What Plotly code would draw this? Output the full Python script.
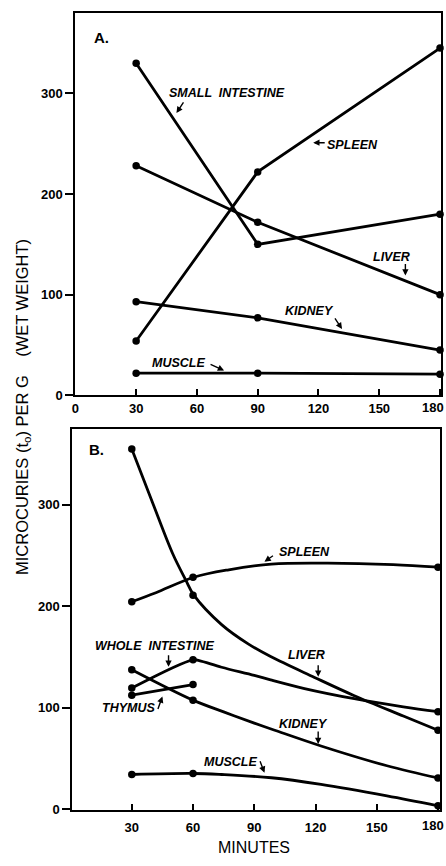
import plotly.graph_objects as go

W, H = 446, 866

# ---------------- Panel A data (straight lines) ----------------
A_MIN = [30, 90, 180]
A_SMALL_INTESTINE = [330, 150, 180]
A_SPLEEN = [54, 222, 345]
A_LIVER = [228, 172, 100]
A_KIDNEY = [93, 77, 45]
A_MUSCLE = [22, 22, 21]

# ---------------- Panel B data (measured points) ----------------
B_MIN = [30, 60, 180]
B_LIVER = [355, 211, 78]
B_SPLEEN = [204.5, 228.6, 238.5]
B_WHOLE_INTESTINE = [119.5, 147.3, 96.3]
B_THYMUS_MIN = [30, 60]
B_THYMUS = [112.5, 123]
B_KIDNEY = [137.6, 107.6, 31]
B_MUSCLE = [34.4, 35.4, 3.6]

# ---------------- Panel B smooth curves ----------------
B_LIVER_CX = [30, 40, 50, 56.4, 60.4, 74, 87, 98, 119.5, 139, 163, 180]
B_LIVER_CY = [355, 303, 252, 226, 211, 182, 163, 150.5, 130, 112, 92, 78]
B_SPLEEN_CX = [30, 41.8, 60.4, 77.5, 98.4, 126, 158, 180]
B_SPLEEN_CY = [204.5, 213.4, 228.6, 236, 241.6, 242.5, 241, 238.5]
B_WHOLE_CX = [30, 60, 63, 74, 90, 98, 114.6, 139, 163, 180]
B_WHOLE_CY = [119.5, 147.3, 146.6, 140, 132, 127.5, 119, 109, 101, 96.3]
B_KIDNEY_CX = [30, 60, 75, 90, 100, 122.7, 155, 180]
B_KIDNEY_CY = [137.6, 107.6, 96, 85, 78, 62.5, 43, 31]
B_MUSCLE_CX = [30, 60, 74, 98.4, 122.7, 155, 180]
B_MUSCLE_CY = [34.4, 35.4, 34.4, 31.2, 24.7, 13.4, 3.6]

A_XTICKS = [0, 30, 60, 90, 120, 150, 180]
A_XTEXT = ["0", "30", "60", "90", "120", "150", ""]
B_XTICKS = [30, 60, 90, 120, 150, 180]
B_XTEXT = ["30", "60", "90", "120", "150", ""]
EDGE_LABEL = "180"   # last x label, drawn flush with the right edge (cut in the original)
Y_TICKS = [0, 100, 200, 300]

LW = 2.8
MS = 7.5
BLACK = "black"

fig = go.Figure()


def add_line(x, y, xa, ya, shape="linear"):
    fig.add_trace(go.Scatter(x=x, y=y, xaxis=xa, yaxis=ya, mode="lines",
                             line=dict(color=BLACK, width=LW, shape=shape, smoothing=1.0),
                             cliponaxis=False, showlegend=False, hoverinfo="skip"))


def add_pts(x, y, xa, ya):
    fig.add_trace(go.Scatter(x=x, y=y, xaxis=xa, yaxis=ya, mode="markers",
                             marker=dict(color=BLACK, size=MS),
                             cliponaxis=False, showlegend=False, hoverinfo="skip"))


for s in [A_SMALL_INTESTINE, A_SPLEEN, A_LIVER, A_KIDNEY, A_MUSCLE]:
    add_line(A_MIN, s, "x", "y")
    add_pts(A_MIN, s, "x", "y")

for cx, cy in [(B_LIVER_CX, B_LIVER_CY), (B_SPLEEN_CX, B_SPLEEN_CY), (B_WHOLE_CX, B_WHOLE_CY),
               (B_KIDNEY_CX, B_KIDNEY_CY), (B_MUSCLE_CX, B_MUSCLE_CY)]:
    add_line(cx, cy, "x2", "y2", shape="spline")
add_line(B_THYMUS_MIN, B_THYMUS, "x2", "y2")
for s in [B_LIVER, B_SPLEEN, B_WHOLE_INTESTINE, B_KIDNEY, B_MUSCLE]:
    add_pts(B_MIN, s, "x2", "y2")
add_pts(B_THYMUS_MIN, B_THYMUS, "x2", "y2")

FAM = "Liberation Sans, Arial, sans-serif"
TICKFONT = dict(family=FAM, size=13, color=BLACK, weight="bold")
axis_common = dict(showline=True, linecolor=BLACK, linewidth=2, mirror=True, showgrid=False,
                   zeroline=False, tickcolor=BLACK, tickwidth=2, tickfont=TICKFONT)

fig.update_layout(
    width=W, height=H, margin=dict(l=0, r=0, t=0, b=0),
    paper_bgcolor="white", plot_bgcolor="white",
    xaxis=dict(domain=[72 / W, 441 / W], range=[0, 180.5], tickvals=A_XTICKS, ticktext=A_XTEXT,
               ticks="inside", ticklen=6, anchor="y", **axis_common),
    yaxis=dict(domain=[1 - 399 / H, 1 - 13 / H], range=[0, 380], tickvals=Y_TICKS,
               ticks="outside", ticklen=8, anchor="x", **axis_common),
    xaxis2=dict(domain=[69 / W, 440 / W], range=[0.9, 181], tickvals=B_XTICKS, ticktext=B_XTEXT,
                ticks="inside", ticklen=6, ticklabelstandoff=4, anchor="y2", **axis_common),
    yaxis2=dict(domain=[1 - 818 / H, 1 - 433 / H], range=[-1, 374.6], tickvals=Y_TICKS,
                ticks="outside", ticklen=8, anchor="x2", **axis_common),
)

# right-edge "180" labels (kept inside the page)
fig.add_annotation(x=1, y=1 - 411 / H, xref="paper", yref="paper", text="<b>" + EDGE_LABEL + "</b>",
                   showarrow=False, xanchor="right", yanchor="middle",
                   font=dict(family=FAM, size=13, color=BLACK))
fig.add_annotation(x=1, y=1 - 833 / H, xref="paper", yref="paper", text="<b>" + EDGE_LABEL + "</b>",
                   showarrow=False, xanchor="right", yanchor="middle",
                   font=dict(family=FAM, size=13, color=BLACK))

LABFONT = dict(family=FAM, size=12.5, color=BLACK)


def label(text, x, y, xr, yr):
    fig.add_annotation(x=x, y=y, xref=xr, yref=yr, text="<b><i>" + text + "</i></b>",
                       showarrow=False, font=LABFONT, xanchor="center", yanchor="middle")


def arrow(x, y, ax, ay, xr, yr):
    fig.add_annotation(x=x, y=y, xref=xr, yref=yr, text="", showarrow=True, ax=ax, ay=ay,
                       arrowhead=2, arrowsize=0.9, arrowwidth=1.4, arrowcolor=BLACK, standoff=0)


# Panel A labels
fig.add_annotation(x=12.7, y=356, xref="x", yref="y", text="<b>A.</b>", showarrow=False,
                   font=dict(family=FAM, size=15, color=BLACK))
label("SMALL  INTESTINE", 74.9, 300.3, "x", "y"); arrow(49.9, 280.6, 8, -12, "x", "y")
label("SPLEEN", 137, 249, "x", "y"); arrow(117.4, 251, 13, 0, "x", "y")
label("LIVER", 156, 137.8, "x", "y"); arrow(162.9, 119.1, 0, -13, "x", "y")
label("KIDNEY", 115.5, 83.7, "x", "y"); arrow(131.6, 66, -8, -12, "x", "y")
label("MUSCLE", 50.9, 32.5, "x", "y"); arrow(73.4, 24.6, -15, -7, "x", "y")

# Panel B labels
fig.add_annotation(x=12.8, y=354.6, xref="x2", yref="y2", text="<b>B.</b>", showarrow=False,
                   font=dict(family=FAM, size=15, color=BLACK))
label("SPLEEN", 114.5, 253.7, "x2", "y2"); arrow(95, 243.9, 10, -7, "x2", "y2")
label("WHOLE  INTESTINE", 41.2, 160.5, "x2", "y2"); arrow(48, 140.5, 0, -13, "x2", "y2")
label("LIVER", 115.4, 151.7, "x2", "y2"); arrow(121.3, 130.7, 0, -13, "x2", "y2")
label("THYMUS", 28.5, 99.5, "x2", "y2"); arrow(45, 111.2, -5, 14, "x2", "y2")
label("KIDNEY", 114.2, 84.4, "x2", "y2"); arrow(121.3, 64.4, 0, -14, "x2", "y2")
label("MUSCLE", 78.3, 46.8, "x2", "y2"); arrow(95, 36.1, -5, -13, "x2", "y2")

# Axis titles
fig.add_annotation(x=252 / W, y=1 - 855 / H, xref="paper", yref="paper", text="MINUTES",
                   showarrow=False, xanchor="center", yanchor="middle",
                   font=dict(family=FAM, size=16, color=BLACK))
fig.add_annotation(x=19 / W, y=1 - 411 / H, xref="paper", yref="paper",
                   text="MICROCURIES (t<sub>o</sub>) PER G &nbsp;&nbsp;&nbsp;(WET WEIGHT)",
                   textangle=-90, showarrow=False, xanchor="center", yanchor="middle",
                   font=dict(family=FAM, size=16.5, color=BLACK))

POST = ("document.documentElement.style.margin='0';"
        "document.documentElement.style.overflow='hidden';"
        "document.body.style.margin='0';document.body.style.overflow='hidden';")

fig.write_html("out.html", config={"displayModeBar": False}, post_script=POST)
